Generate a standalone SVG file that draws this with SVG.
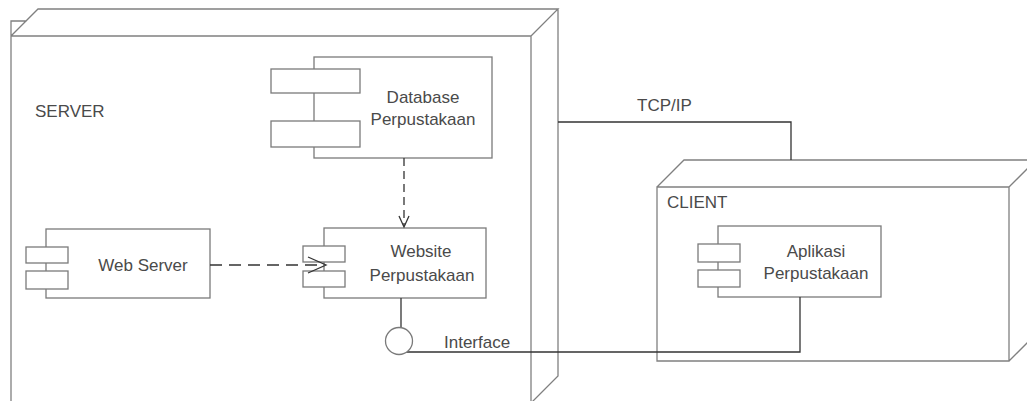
<svg xmlns="http://www.w3.org/2000/svg" width="1027" height="401" viewBox="0 0 1027 401">
<style>
.box{fill:#fff;stroke:#7a7a7a;stroke-width:1.3}
.node{fill:none;stroke:#808080;stroke-width:1.3}
.conn{fill:none;stroke:#333;stroke-width:1.3}
.dash1{fill:none;stroke:#333;stroke-width:1.3;stroke-dasharray:8 5}
.dash2{fill:none;stroke:#333;stroke-width:1.3;stroke-dasharray:12 7}
.t{font-family:"Liberation Sans",Arial,sans-serif;font-size:17px;fill:#4a4a4a}
.c{text-anchor:middle}
</style>
<rect width="1027" height="401" fill="#fff"/>
<g id="server">
  <path class="node" d="M11,36 L531,36 M11,36 L11,410 M531,36 L531,410 M11,36 L38,9 L558,9 L531,36 M558,9 L558,376 L531,403 M11,36 L11,21 L26.6,21"/>
  <text class="t" x="35" y="117">SERVER</text>
</g>
<g id="client">
  <path class="node" d="M657,187 L1009,187 L1009,361 L657,361 Z M657,187 L684,160 L1040,160 M1009,187 L1036,160 M1009,361 L1036,334"/>
  <text class="t" x="667" y="208">CLIENT</text>
</g>
<g id="database">
  <rect class="box" x="314" y="57" width="178" height="101"/>
  <rect class="box" x="271" y="69" width="89" height="24"/>
  <rect class="box" x="271" y="121" width="89" height="26"/>
  <text class="t c" x="423" y="103">Database</text>
  <text class="t c" x="423" y="125">Perpustakaan</text>
</g>
<g id="website">
  <rect class="box" x="324" y="228" width="162" height="70"/>
  <rect class="box" x="303" y="246" width="42" height="16"/>
  <rect class="box" x="303" y="271" width="42" height="16"/>
  <text class="t c" x="421" y="257">Website</text>
  <text class="t c" x="422" y="281">Perpustakaan</text>
</g>
<g id="webserver">
  <rect class="box" x="46" y="229" width="164" height="69"/>
  <rect class="box" x="26" y="247" width="42" height="16"/>
  <rect class="box" x="26" y="271" width="42" height="18"/>
  <text class="t c" x="143" y="271">Web Server</text>
</g>
<g id="aplikasi">
  <rect class="box" x="718" y="226" width="163" height="71"/>
  <rect class="box" x="698" y="244" width="42" height="18"/>
  <rect class="box" x="698" y="270" width="42" height="17"/>
  <text class="t c" x="816" y="257">Aplikasi</text>
  <text class="t c" x="816" y="279">Perpustakaan</text>
</g>
<g id="connectors">
  <path class="dash1" d="M404,158 L404,226"/>
  <path class="conn" d="M399,216 L404,227 L409,216"/>
  <path class="dash2" d="M210,265 L324,265"/>
  <path class="conn" d="M308,257 L326,265 L308,273"/>
  <path class="conn" d="M401,298 L401,328"/>
  <path class="conn" d="M406,352 L800,352 L800,297"/>
  <path class="conn" d="M558,122 L791,122 L791,160"/>
  <text class="t" x="637" y="111">TCP/IP</text>
</g>
<g id="interface">
  <circle cx="399" cy="341" r="13.5" fill="#fff" stroke="#7a7a7a" stroke-width="1.3"/>
  <text class="t" x="444" y="348">Interface</text>
</g>
</svg>
